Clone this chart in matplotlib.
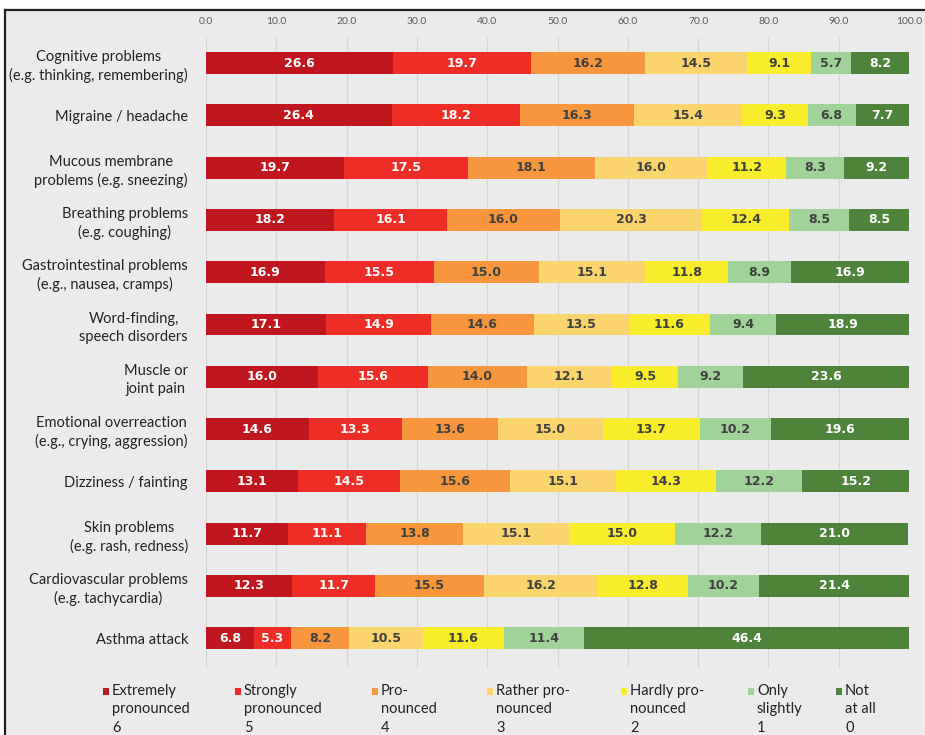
import numpy as np
import matplotlib
matplotlib.use("Agg")
import matplotlib.pyplot as plt
from matplotlib.patches import Rectangle
from matplotlib.lines import Line2D

plt.rcParams["font.family"] = ["Lato", "DejaVu Sans"]

symptoms = [
    "Cognitive problems\n(e.g. thinking, remembering)",
    "Migraine / headache",
    "Mucous membrane\nproblems (e.g. sneezing)",
    "Breathing problems\n(e.g. coughing)",
    "Gastrointestinal problems\n(e.g., nausea, cramps)",
    "Word-finding,\nspeech disorders",
    "Muscle or\njoint pain",
    "Emotional overreaction\n(e.g., crying, aggression)",
    "Dizziness / fainting",
    "Skin problems\n(e.g. rash, redness)",
    "Cardiovascular problems\n(e.g. tachycardia)",
    "Asthma attack",
]

levels = [
    "Extremely\npronounced\n6",
    "Strongly\npronounced\n5",
    "Pro-\nnounced\n4",
    "Rather pro-\nnounced\n3",
    "Hardly pro-\nnounced\n2",
    "Only\nslightly\n1",
    "Not\nat all\n0",
]

# percent per symptom, one column per severity level (6 -> 0)
extremely = [26.6, 26.4, 19.7, 18.2, 16.9, 17.1, 16.0, 14.6, 13.1, 11.7, 12.3, 6.8]
strongly = [19.7, 18.2, 17.5, 16.1, 15.5, 14.9, 15.6, 13.3, 14.5, 11.1, 11.7, 5.3]
pronounced = [16.2, 16.3, 18.1, 16.0, 15.0, 14.6, 14.0, 13.6, 15.6, 13.8, 15.5, 8.2]
rather = [14.5, 15.4, 16.0, 20.3, 15.1, 13.5, 12.1, 15.0, 15.1, 15.1, 16.2, 10.5]
hardly = [9.1, 9.3, 11.2, 12.4, 11.8, 11.6, 9.5, 13.7, 14.3, 15.0, 12.8, 11.6]
slightly = [5.7, 6.8, 8.3, 8.5, 8.9, 9.4, 9.2, 10.2, 12.2, 12.2, 10.2, 11.4]
not_at_all = [8.2, 7.7, 9.2, 8.5, 16.9, 18.9, 23.6, 19.6, 15.2, 21.0, 21.4, 46.4]

series = [extremely, strongly, pronounced, rather, hardly, slightly, not_at_all]
colors = ["#C0171F", "#EE2D26", "#F7963D", "#FCD46E", "#F8EC2B", "#9FD397", "#4E843A"]
text_colors = ["white", "white", "#404040", "#404040", "#404040", "#404040", "white"]

BG = "#EBEBEB"
W, H = 925, 735

fig = plt.figure(figsize=(W / 100, H / 100), dpi=100, facecolor="white")
# grey panel with a black frame on the left and top
fig.add_artist(Rectangle((5 / W, 0), 1 - 5 / W, 1 - 10 / H, transform=fig.transFigure,
                         facecolor=BG, edgecolor="none", zorder=0))
fig.add_artist(Line2D([5 / W, 1], [1 - 10 / H, 1 - 10 / H], transform=fig.transFigure,
                      color="#222222", lw=1.6))
fig.add_artist(Line2D([5 / W, 5 / W], [0, 1 - 10 / H], transform=fig.transFigure,
                      color="#222222", lw=1.6))

ax = fig.add_axes([206 / W, 1 - 668 / H, (909 - 206) / W, (668 - 38) / H])
ax.set_facecolor("none")

y = np.arange(len(symptoms))
left = np.zeros(len(symptoms))
for vals, col, tcol in zip(series, colors, text_colors):
    vals = np.array(vals)
    ax.barh(y, vals, left=left, height=0.42, color=col, zorder=2)
    for yi, l, v in zip(y, left, vals):
        ax.text(l + v / 2, yi, f"{v:.1f}", ha="center", va="center",
                family="DejaVu Sans", fontsize=9, fontweight="bold",
                color=tcol, zorder=3)
    left += vals

ax.set_xlim(0, 100)
ax.set_ylim(len(symptoms) - 0.43, -0.48)
ax.set_xticks(np.arange(0, 101, 10))
ax.set_xticklabels([f"{v:.1f}" for v in range(0, 101, 10)], fontsize=7.5, color="#595959")
ax.xaxis.tick_top()
ax.tick_params(axis="x", length=0, pad=9)
ax.set_yticks(y)
ax.set_yticklabels(symptoms, fontsize=10.5, color="#222222", multialignment="center",
                   linespacing=1.35)
ax.tick_params(axis="y", length=0, pad=13)
ax.grid(axis="x", color="#D6D6D6", lw=0.8, zorder=0)
ax.set_axisbelow(True)
for s in ax.spines.values():
    s.set_visible(False)

# legend laid out in a single row of three-line labels
leg_x = [103, 235, 372, 487, 621, 748, 836]
for lx, lab, col in zip(leg_x, levels, colors):
    fig.add_artist(Rectangle((lx / W, 1 - 695 / H), 6 / W, 7 / H,
                             transform=fig.transFigure, facecolor=col, edgecolor="none"))
    fig.text((lx + 9) / W, 1 - 684 / H, lab, ha="left", va="top", fontsize=10.5,
             color="#222222", linespacing=1.4)

fig.savefig("out.png", dpi=100, facecolor=fig.get_facecolor())
